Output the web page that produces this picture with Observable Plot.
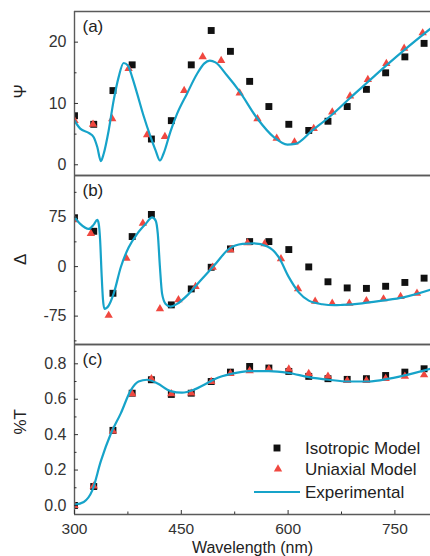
<!DOCTYPE html>
<html><head><meta charset="utf-8">
<script src="https://cdn.jsdelivr.net/npm/d3@7"></script>
<script src="https://cdn.jsdelivr.net/npm/@observablehq/plot@0.6"></script>
<style>
html,body{margin:0;padding:0;background:#fff;}
#wrap{position:relative;width:430px;height:556px;overflow:hidden;background:#fff;font-family:"Liberation Sans",Arial,sans-serif;}
#wrap svg{position:absolute;left:0;top:0;}
</style></head><body><div id="wrap"></div>
<script>
// ---- data ----
const xDomain = [300, 800];
const xMajor = [300, 450, 600, 750];
const xMinor = [375, 525, 675];

// Isotropic model (squares) wavelengths, common to all panels
const isoX = [300, 327, 354, 381, 408, 436, 464, 492, 519, 546, 573, 601, 629, 656, 683, 710, 737, 764, 791];
const isoPsi = [8.0, 6.6, 12.1, 16.3, 4.2, 7.2, 16.3, 21.9, 18.5, 13.6, 9.5, 6.6, 5.6, 7.1, 9.5, 12.3, 15.0, 17.6, 19.8];
const isoDelta = [74, 53.5, -40.4, 45.5, 79, -58, -33.8, -1, 26.8, 37.9, 37.9, 25.8, -0.5, -23, -32.3, -33, -29.8, -24, -17.5];
const isoT = [0.0, 0.107, 0.424, 0.634, 0.71, 0.627, 0.634, 0.70, 0.753, 0.785, 0.776, 0.757, 0.729, 0.716, 0.712, 0.716, 0.734, 0.753, 0.772];

// Uniaxial model (triangles)
const uniXPsi = [300, 326, 353, 376, 402, 427, 454, 480, 506, 532, 557, 584, 609, 636, 662, 687, 712, 738, 763, 789];
const uniPsi = [7.2, 6.6, 7.5, 15.7, 4.9, 4.6, 12.1, 17.6, 17.0, 11.7, 7.5, 4.3, 3.7, 5.9, 8.6, 11.2, 13.9, 16.5, 19.0, 21.5];
const uniXDelta = [300, 323, 348, 373, 396, 420, 446, 470, 494, 519, 543, 567, 590, 614, 638, 662, 686, 710, 734, 758, 781];
const uniDelta = [71, 50, -74, 12.5, 65.7, -64, -50.5, -30.3, -1, 25.3, 35.9, 34.4, 11.7, -33.8, -52.5, -55.5, -55.5, -52, -49, -45.5, -40.4];
const uniXT = isoX;
const uniT = [0.0, 0.11, 0.42, 0.63, 0.715, 0.63, 0.634, 0.70, 0.745, 0.76, 0.77, 0.77, 0.745, 0.73, 0.705, 0.705, 0.716, 0.729, 0.737];

// Experimental curves
const expXPsi = [300, 308, 320, 327, 332, 337, 341, 348, 355, 362, 369, 375, 381, 388, 397, 407, 414, 420, 425, 435, 444, 458, 472, 482, 490, 498, 514, 531, 557, 580, 599, 610, 634, 662, 687, 712, 738, 763, 800];
const expPsi = [7.2, 5.9, 5.2, 4.5, 2.9, 0.6, 1.8, 5.6, 10.5, 14.3, 16.6, 16.2, 14.3, 11.6, 8.0, 4.5, 2.3, 0.7, 1.8, 5.5, 8.3, 11.6, 14.8, 16.5, 17.0, 16.7, 14.6, 12.1, 7.5, 4.5, 3.3, 3.4, 5.6, 8.2, 10.9, 13.5, 16.2, 18.7, 22.2];
const expXDelta = [300, 308, 320, 327, 332, 334, 336, 338, 340, 342, 348, 355, 365, 376, 388, 400, 409, 414, 417, 420, 423, 428, 435, 444, 458, 477, 496, 517, 536, 552, 571, 587, 601, 615, 629, 648, 665, 676, 704, 732, 762, 800];
const expDelta = [74.7, 64.7, 57, 63.6, 70.7, 65, 40, -10, -50, -64, -59, -41, -1, 29, 49.5, 64.7, 74.5, 69.7, 49.5, -1, -41, -56.5, -60.6, -56.5, -44, -21, 1.5, 26.8, 34.4, 35.3, 30.3, 14, -16, -39, -51.5, -57, -58.5, -58, -55.6, -51.5, -46.5, -35];
const expXT = [300, 313, 325, 337, 351, 365, 379, 390, 402, 416, 435, 451, 468, 486, 498, 521, 545, 573, 601, 629, 657, 685, 713, 742, 770, 800];
const expT = [0.005, 0.02, 0.085, 0.25, 0.405, 0.52, 0.65, 0.70, 0.71, 0.69, 0.646, 0.637, 0.654, 0.69, 0.716, 0.744, 0.759, 0.759, 0.748, 0.725, 0.71, 0.70, 0.70, 0.716, 0.74, 0.772];

// tick labels
const psiMajor = [0, 10, 20], psiMinor = [5, 15];
const deltaMajor = [-75, 0, 75], deltaMinor = [-112.5, -37.5, 37.5, 112.5];
const tMajor = [0, 0.2, 0.4, 0.6, 0.8], tMinor = [0.1, 0.3, 0.5, 0.7];

const legendLabels = ["Isotropic Model", "Uniaxial Model", "Experimental"];

// ---- drawing ----
const W = 430, H = 556, ML = 74;
const CYAN = "#16a3c9", RED = "#f04840", BLACK = "#111", FRAME = "#5a5a5a";
const FONT = "'Liberation Sans', Arial, sans-serif";

const zip = (xs, ys) => xs.map((x, i) => ({x, y: ys[i]}));

const panels = [
  {top: 11, bottom: 175, yDomain: [-1.75, 25], major: psiMajor, minor: psiMinor, fmt: d => String(d), label: "Ψ", tag: "(a)",
   iso: zip(isoX, isoPsi), uni: zip(uniXPsi, uniPsi), exp: zip(expXPsi, expPsi), xaxis: false},
  {top: 175, bottom: 344, yDomain: [-118, 138], major: deltaMajor, minor: deltaMinor, fmt: d => String(d), label: "Δ", tag: "(b)",
   iso: zip(isoX, isoDelta), uni: zip(uniXDelta, uniDelta), exp: zip(expXDelta, expDelta), xaxis: false},
  {top: 344, bottom: 514, yDomain: [-0.051, 0.909], major: tMajor, minor: tMinor, fmt: d3.format(".1f"), label: "%T", tag: "(c)",
   iso: zip(isoX, isoT), uni: zip(uniXT, uniT), exp: zip(expXT, expT), xaxis: true}
];

const wrap = document.getElementById("wrap");

for (const p of panels) {
  const marks = [
    Plot.dot(p.iso, {x: "x", y: "y", symbol: "square", r: 3.9, fill: BLACK, clip: true}),
    Plot.dot(p.uni, {x: "x", y: "y", symbol: "triangle", r: 3.1, fill: RED, clip: true}),
    Plot.line(p.exp, {x: "x", y: "y", stroke: CYAN, strokeWidth: 2.2, curve: "monotone-x", clip: true}),
    Plot.ruleY([p.yDomain[1], p.yDomain[0]], {stroke: FRAME, strokeWidth: 1.4}),
    Plot.ruleX([xDomain[0]], {stroke: FRAME, strokeWidth: 1.4}),
    Plot.axisY(p.major, {anchor: "left", tickSize: -4, tickPadding: 12, tickFormat: p.fmt, fontSize: 16, label: null}),
    Plot.axisY(p.minor, {anchor: "left", tickSize: -2.5, tickFormat: () => "", label: null}),
    Plot.text([p.label], {frameAnchor: "left", dx: -54, dy: 5, rotate: -90, fontSize: 17, fill: "#222"}),
    Plot.text([p.tag], {frameAnchor: "top-left", dx: 8, dy: 15, textAnchor: "start", lineAnchor: "middle", fontSize: 17, fill: "#222"})
  ];
  if (p.xaxis) {
    marks.push(
      Plot.axisX(xMajor, {anchor: "bottom", tickSize: -4, tickPadding: 12, fontSize: 15.5, label: null}),
      Plot.axisX(xMinor, {anchor: "bottom", tickSize: -2.5, tickFormat: () => "", label: null}),
      Plot.text(["Wavelength (nm)"], {frameAnchor: "bottom", dy: 33, lineAnchor: "middle", fontSize: 16, fill: "#222"})
    );
  }
  const chart = Plot.plot({
    width: W, height: H,
    marginLeft: ML, marginRight: 0, marginTop: p.top, marginBottom: H - p.bottom,
    x: {domain: xDomain, axis: p.xaxis ? undefined : null},
    y: {domain: p.yDomain},
    style: {background: "transparent", fontFamily: FONT, fontSize: "16px", color: "#333", overflow: "visible"},
    marks
  });
  wrap.appendChild(chart);
}

// legend
const leg = d3.create("svg").attr("width", W).attr("height", H).style("background", "transparent");
const lx = 277, ly = [448, 469, 492], tx = 305;
leg.append("path").attr("transform", `translate(${lx},${ly[0]})`)
  .attr("d", d3.symbol(d3.symbolSquare, 3.9 * 3.9 * Math.PI)()).attr("fill", BLACK);
leg.append("path").attr("transform", `translate(${lx + 1},${ly[1]})`)
  .attr("d", d3.symbol(d3.symbolTriangle, 3.1 * 3.1 * Math.PI)()).attr("fill", RED);
leg.append("line").attr("x1", 254).attr("x2", 300).attr("y1", ly[2]).attr("y2", ly[2])
  .attr("stroke", CYAN).attr("stroke-width", 2.2);
legendLabels.forEach((t, i) => {
  leg.append("text").attr("x", tx).attr("y", ly[i]).attr("dy", "0.35em")
    .attr("font-family", FONT).attr("font-size", 17).attr("fill", "#222").text(t);
});
wrap.appendChild(leg.node());
</script>
</body></html>
